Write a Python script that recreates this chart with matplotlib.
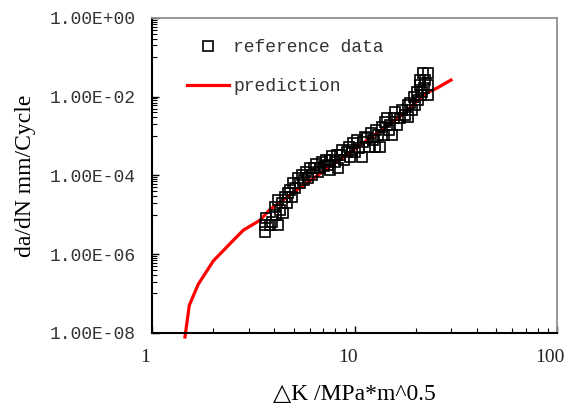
import matplotlib.pyplot as plt
import matplotlib.transforms as mtransforms
from matplotlib.ticker import FixedLocator, NullFormatter

# reference data (dK in MPa*m^0.5, da/dN in mm/cycle)
ref_dk = [3.602, 3.602, 3.643, 3.813, 3.901, 4.036, 4.082, 4.176, 4.176, 4.272,
          4.370, 4.420, 4.522, 4.626, 4.679, 4.786, 4.896, 4.952, 5.066, 5.242,
          5.363, 5.486, 5.613, 5.742, 5.874, 6.010, 6.148, 6.290, 6.434, 6.582,
          6.734, 6.889, 7.048, 7.210, 7.376, 7.546, 7.546, 7.720, 7.988, 8.172,
          8.266, 8.456, 8.651, 8.850, 9.157, 9.362, 9.469, 9.687, 9.797, 10.02,
          10.25, 10.49, 10.85, 10.98, 11.23, 11.49, 11.75, 12.02, 12.30, 12.58,
          12.73, 13.02, 13.32, 13.63, 13.94, 14.10, 14.42, 14.76, 14.92, 15.27,
          15.62, 15.79, 16.16, 16.72, 17.10, 17.70, 18.31, 18.31, 18.74, 19.17,
          19.61, 19.84, 20.29, 20.52, 20.99, 20.99, 21.23, 21.47, 21.72, 21.97,
          22.22, 22.99, 22.99, 22.99]
ref_rate = [3.59e-6, 5.40e-6, 8.15e-6, 5.40e-6, 6.45e-6, 1.55e-5, 9.71e-6, 5.40e-6, 2.34e-5, 1.30e-5,
            1.96e-5, 1.09e-5, 2.79e-5, 1.96e-5, 3.52e-5, 4.20e-5, 2.79e-5, 6.33e-5, 4.72e-5, 8.49e-5,
            6.33e-5, 1.01e-4, 7.55e-5, 1.21e-4, 8.49e-5, 1.52e-4, 1.01e-4, 1.52e-4, 1.93e-4, 1.21e-4,
            1.52e-4, 2.17e-4, 1.71e-4, 2.44e-4, 1.82e-4, 2.44e-4, 1.36e-4, 3.08e-4, 2.17e-4, 3.27e-4,
            1.52e-4, 3.27e-4, 4.38e-4, 2.44e-4, 3.89e-4, 5.22e-4, 2.90e-4, 4.38e-4, 6.60e-4, 3.89e-4,
            7.86e-4, 4.92e-4, 2.90e-4, 7.00e-4, 9.38e-4, 8.84e-4, 5.22e-4, 1.19e-3, 7.86e-4, 5.22e-4,
            1.41e-3, 1.05e-3, 5.22e-4, 1.68e-3, 1.05e-3, 2.26e-3, 2.85e-3, 1.41e-3, 1.89e-3, 1.05e-3,
            2.85e-3, 4.06e-3, 1.89e-3, 2.85e-3, 4.56e-3, 3.40e-3, 3.03e-3, 6.11e-3, 6.87e-3, 4.56e-3,
            9.77e-3, 6.11e-3, 1.31e-2, 8.19e-3, 1.97e-2, 2.65e-2, 1.10e-2, 1.31e-2, 3.99e-2, 1.655e-2,
            2.65e-2, 3.99e-2, 1.97e-2, 1.10e-2]

# prediction curve
pred_dk = [1.450, 1.523, 1.687, 2.001, 2.467, 2.814, 3.403, 3.813, 5.363, 9.469,
           16.72, 22.40, 25.46, 29.86]
pred_rate = [7.8e-9, 4.98e-8, 1.71e-7, 6.67e-7, 2.03e-6, 4.03e-6, 7.24e-6, 1.36e-5, 4.80e-5, 3.85e-4,
             3.11e-3, 1.21e-2, 1.655e-2, 2.65e-2]

y_major = [1e-8, 1e-6, 1e-4, 1e-2, 1e0]
x_major = [1, 10, 100]

fig = plt.figure(figsize=(5.68, 4.07), dpi=100)
ax = fig.add_axes([152.3 / 568, 1 - 332.7 / 407, 405 / 568, 314.7 / 407])

ax.plot(ref_dk, ref_rate, linestyle='none', marker='s', markersize=6.5,
        markerfacecolor='none', markeredgecolor='black', markeredgewidth=1.2,
        label='reference data', zorder=3)
ax.plot(pred_dk, pred_rate, color='#ff0000', linewidth=2.3, label='prediction',
        clip_on=False, zorder=2)

ax.set_xscale('log')
ax.set_yscale('log')
ax.set_xlim(1, 100)
ax.set_ylim(1e-8, 1)

# y axis: labels every two decades, minor ticks at 0.1..0.9 of each upper major
ax.set_yticks(y_major)
ax.set_yticklabels(['%.2E' % v for v in y_major])
ax.yaxis.set_minor_locator(FixedLocator([k * 10.0 ** e for e in (-7, -5, -3, -1) for k in range(1, 10)]))
ax.yaxis.set_minor_formatter(NullFormatter())
ax.set_xticks(x_major)
ax.set_xticklabels([str(v) for v in x_major])
ax.xaxis.set_minor_formatter(NullFormatter())

ax.tick_params(which='both', direction='in', top=False, right=False, color='black')
ax.tick_params(which='major', length=5, width=1.0)
ax.tick_params(which='minor', length=3.5, width=0.8)
ax.tick_params(axis='y', pad=12)
ax.tick_params(axis='x', pad=12)

# x labels sit a little left of their ticks in the original
shift = mtransforms.ScaledTranslation(-5 / 72, 0, fig.dpi_scale_trans)
for lab in ax.get_xticklabels():
    lab.set_fontfamily('Liberation Serif')
    lab.set_fontsize(14)
    lab.set_color('#222222')
    lab.set_transform(lab.get_transform() + shift)
for lab in ax.get_yticklabels():
    lab.set_fontfamily('Liberation Mono')
    lab.set_fontsize(13)
    lab.set_color('#333333')

for side in ['left', 'bottom']:
    ax.spines[side].set_linewidth(1.5)
    ax.spines[side].set_color('black')
for side in ['top', 'right']:
    ax.spines[side].set_linewidth(1.3)
    ax.spines[side].set_color('#909090')

ax.set_ylabel('da/dN mm/Cycle', fontsize=17, family=['Liberation Serif', 'DejaVu Serif'], labelpad=10)
ax.set_xlabel('\u25b3K /MPa*m^0.5', fontsize=17, family=['Liberation Serif', 'DejaVu Serif'], labelpad=13)

leg = ax.legend(loc='upper left', bbox_to_anchor=(0.085, 0.932), frameon=False,
                prop={'family': 'Liberation Mono', 'size': 13},
                handlelength=2.36, handletextpad=0.2, labelspacing=1.2,
                borderaxespad=0, borderpad=0)
for t in leg.get_texts():
    t.set_color('#333333')

plt.savefig('out.png', dpi=100)
